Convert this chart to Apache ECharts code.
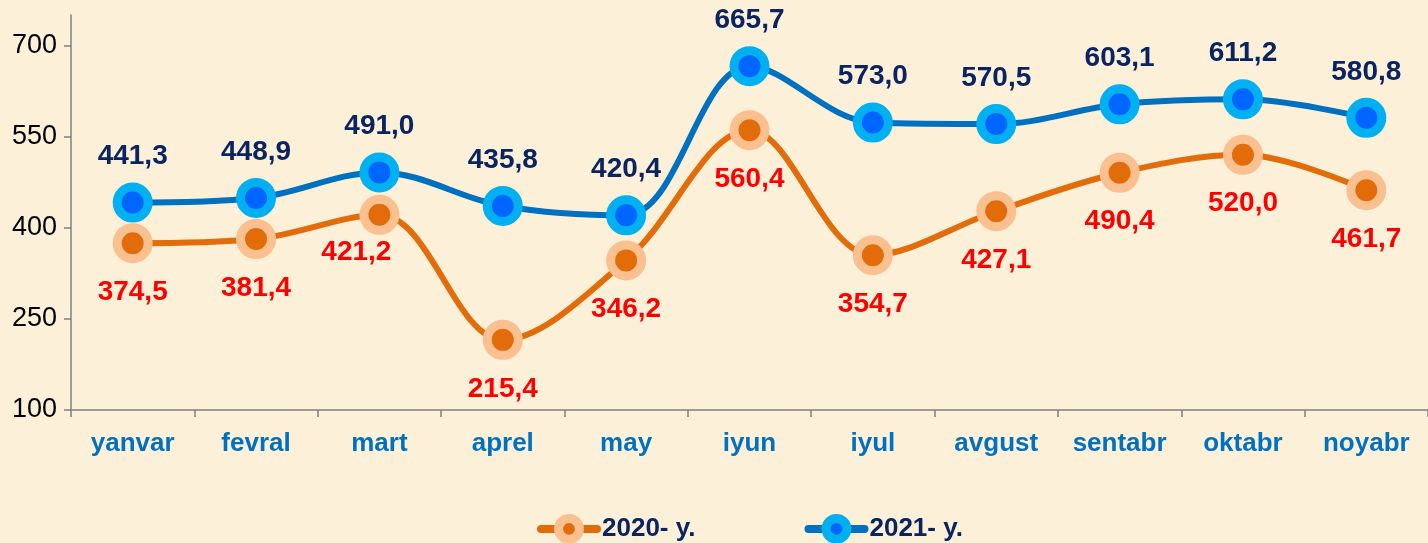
<!DOCTYPE html>
<html>
<head>
<meta charset="utf-8">
<script src="https://cdn.jsdelivr.net/npm/echarts@6/dist/echarts.min.js"></script>
<style>
html,body{margin:0;padding:0;background:#fcf1d8;}
#chart{width:1428px;height:543px;}
</style>
</head>
<body>
<div id="chart"></div>
<script>
const categories = ['yanvar','fevral','mart','aprel','may','iyun','iyul','avgust','sentabr','oktabr','noyabr'];
const seriesNames = ['2020- y.', '2021- y.'];
const values2020 = [374.5, 381.4, 421.2, 215.4, 346.2, 560.4, 354.7, 427.1, 490.4, 520.0, 461.7];
const values2021 = [441.3, 448.9, 491.0, 435.8, 420.4, 665.7, 573.0, 570.5, 603.1, 611.2, 580.8];
const yTicks = [100, 250, 400, 550, 700];

// label offsets (presentation only)
const offsets2020 = [null, null, [-23, -12], null, null, null, null, null, null, null, null];

const fmt = v => v.toFixed(1).replace('.', ',');
const FONT = '"Liberation Sans", Arial, sans-serif';

const chart = echarts.init(document.getElementById('chart'));
chart.setOption({
  backgroundColor: '#fcf1d8',
  animation: false,
  grid: { left: 71, right: -7, top: 15, bottom: 133, containLabel: false },
  xAxis: {
    type: 'category',
    data: categories,
    boundaryGap: true,
    axisLine: { lineStyle: { color: '#7f7f7f', width: 1.5 } },
    axisTick: { show: true, alignWithLabel: false, length: 7, lineStyle: { color: '#7f7f7f', width: 1.5 } },
    axisLabel: { color: '#0070c0', fontWeight: 'bold', fontSize: 26, fontFamily: FONT, margin: 21 }
  },
  yAxis: {
    type: 'value',
    min: 100, max: 750, interval: 150,
    splitLine: { show: false },
    axisLine: { show: true, lineStyle: { color: '#7f7f7f', width: 1.5 } },
    axisTick: { show: true, length: 7, customValues: yTicks, lineStyle: { color: '#7f7f7f', width: 1.5 } },
    axisLabel: { color: '#000', fontSize: 27, fontFamily: FONT, margin: 14, customValues: yTicks }
  },
  legend: {
    top: 509,
    left: 532,
    itemWidth: 56, itemHeight: 26,
    itemGap: 109,
    lineStyle: { width: 8, cap: 'round' },
    textStyle: { color: '#0a2461', fontWeight: 'bold', fontSize: 26, fontFamily: FONT },
    data: [
      { name: seriesNames[0], itemStyle: { color: '#e36c0a', borderColor: '#fac090', borderWidth: 9 } },
      { name: seriesNames[1], itemStyle: { color: '#0066ff', borderColor: '#00b0f0', borderWidth: 9 } }
    ]
  },
  series: [
    {
      name: seriesNames[0],
      type: 'line',
      smooth: 0.35,
      data: values2020.map((v, i) => offsets2020[i] ? { value: v, label: { offset: offsets2020[i] } } : v),
      symbol: 'circle',
      symbolSize: 31,
      lineStyle: { color: '#e36c0a', width: 6 },
      itemStyle: { color: '#e36c0a', borderColor: '#fac090', borderWidth: 9 },
      label: { show: true, position: 'bottom', distance: 15, color: '#ff0000', fontWeight: 'bold', fontSize: 28, fontFamily: FONT, formatter: p => fmt(p.value) },
      z: 2
    },
    {
      name: seriesNames[1],
      type: 'line',
      smooth: 0.35,
      data: values2021,
      symbol: 'circle',
      symbolSize: 31,
      lineStyle: { color: '#0070c0', width: 6 },
      itemStyle: { color: '#0066ff', borderColor: '#00b0f0', borderWidth: 9 },
      label: { show: true, position: 'top', distance: 12, color: '#0a2461', fontWeight: 'bold', fontSize: 28, fontFamily: FONT, formatter: p => fmt(p.value) },
      z: 3
    }
  ]
});
</script>
</body>
</html>
